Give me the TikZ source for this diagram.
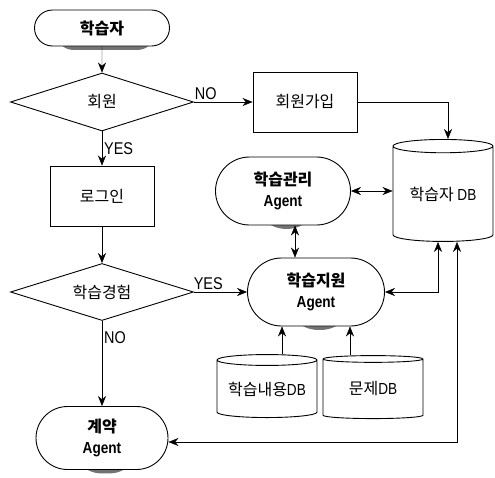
\documentclass[tikz,border=0pt]{standalone}
\usepackage{fontspec}
\setmainfont{Noto Sans CJK KR}
\newfontfamily\lat[FakeStretch=0.85]{Liberation Sans}
\usetikzlibrary{arrows.meta,shapes}
\pgfdeclarelayer{background}
\pgfsetlayers{background,main}

\begin{document}
\begin{tikzpicture}[x=1pt,y=-1pt,->,>={Stealth[length=10pt,width=8pt]},line width=0.9pt,
					align=center,font=\fontsize{16}{21}\selectfont,
					term node/.style={rounded rectangle,draw,fill=white,inner sep=0pt,minimum width=135pt,minimum height=36pt,
						font=\fontsize{16}{21}\selectfont\bfseries},
					term shade/.style={fill=black!55,draw=none},
					cond node/.style={diamond,draw,aspect=3,inner sep=0pt,minimum width=183pt,minimum height=58pt},
					proc node/.style={rectangle,draw,minimum width=104pt,minimum height=60pt},
					db node/.style={cylinder,shape border rotate=90,draw,aspect=0.2,inner sep=0pt,minimum width=100pt},
					lbl/.style={font=\lat\fontsize{17}{17}\selectfont,inner sep=2pt}]
					
					\useasboundingbox (0,0) rectangle (495,477);
					
					\node[term node] (1) at (102,28) {학습자};
					\node[cond node] (2) at (102,102) {회원};
					\node[proc node] (3) at (305,102) {회원가입};
					\node[proc node] (4) at (102,196) {로그인};
					\node[cond node,minimum height=57pt] (5) at (102,292) {학습경험};
					\node[term node,minimum width=132pt,minimum height=63pt] (6) at (102,438) {계약\\{\lat Agent}};
					\node[db node,minimum height=102pt] (7) at (443,194) {학습자 {\lat DB}};
					\node[term node,minimum height=68pt] (8) at (283,191) {학습관리\\{\lat Agent}};
					\node[term node,minimum width=137pt,minimum height=68pt] (9) at (316,292) {학습지원\\{\lat Agent}};
					\node[db node,minimum height=63pt,aspect=0.14] (10) at (267,389) {학습내용{\lat DB}};
					\node[db node,minimum height=63pt,aspect=0.14] (11) at (373,389) {문제{\lat DB}};
					
					% shadows of the rounded boxes
					\begin{pgfonlayer}{background}
					\fill[term shade,rounded corners=17.5pt] ([shift={(3.5pt,-3.5pt)}]1.north west) rectangle ([shift={(3.5pt,-3.5pt)}]1.south east);
					\fill[term shade,rounded corners=31pt] ([shift={(3.5pt,-3.5pt)}]6.north west) rectangle ([shift={(3.5pt,-3.5pt)}]6.south east);
					\fill[term shade,rounded corners=33.5pt] ([shift={(3.5pt,-3.5pt)}]8.north west) rectangle ([shift={(3.5pt,-3.5pt)}]8.south east);
					\fill[term shade,rounded corners=33.5pt] ([shift={(3.5pt,-3.5pt)}]9.north west) rectangle ([shift={(3.5pt,-3.5pt)}]9.south east);
					\end{pgfonlayer}
					
					\path
					(1) edge (2)
					(2) edge node[lbl,above,pos=0.2] {NO} (3)
					(2) edge node[lbl,right] {YES} (4)
					(4) edge (5)
					(5) edge node[lbl,above,pos=0.27] {YES} (9)
					(5) edge node[lbl,right,pos=0.2] {NO} (6);
					
					\draw (3) -| ([xshift=5pt]7.north);
					\draw[<->] (8.east) -- (8.east -| 7.west);
					\draw[<->] ([xshift=12pt]8.south) -- ([xshift=12pt]8.south |- 9.north);
					\draw[<->] (9.east) -| ([xshift=-5pt]7.south);
					\draw[<->] ([yshift=-4pt]6.east) -| ([xshift=14pt]7.south);
					\draw ([xshift=15pt]10.north) -- ([xshift=15pt]10.north |- 9.south);
					\draw ([xshift=-23pt]11.north) -- ([xshift=-23pt]11.north |- 9.south);
					
				\end{tikzpicture}
\end{document}
